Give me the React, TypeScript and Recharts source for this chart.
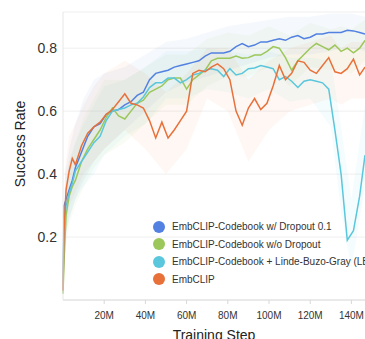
import { ComposedChart, Line, Area, XAxis, YAxis, CartesianGrid } from 'recharts'

// training step in millions
const STEPS = [0, 0.5, 1.5, 3, 4.5, 6, 9, 12, 15, 18, 21, 24, 27, 30, 33, 36, 39, 42, 45, 48, 51, 54, 57, 60, 63, 66, 69, 72, 75, 78, 81, 84, 87, 90, 93, 96, 99, 102, 105, 108, 111, 114, 117, 120, 123, 126, 129, 132, 135, 138, 141, 144, 146.6]

const DROPOUT = [0.03, 0.3, 0.32, 0.35, 0.38, 0.42, 0.47, 0.52, 0.55, 0.56, 0.59, 0.6, 0.605, 0.62, 0.63, 0.65, 0.66, 0.7, 0.72, 0.725, 0.73, 0.74, 0.745, 0.75, 0.755, 0.76, 0.775, 0.785, 0.785, 0.785, 0.79, 0.805, 0.815, 0.805, 0.81, 0.82, 0.82, 0.825, 0.83, 0.825, 0.835, 0.84, 0.83, 0.835, 0.845, 0.845, 0.85, 0.85, 0.85, 0.857, 0.855, 0.85, 0.845]
const NO_DROPOUT = [0.02, 0.12, 0.27, 0.33, 0.36, 0.38, 0.44, 0.48, 0.51, 0.54, 0.58, 0.61, 0.585, 0.575, 0.6, 0.625, 0.635, 0.66, 0.67, 0.68, 0.7, 0.705, 0.705, 0.67, 0.7, 0.715, 0.73, 0.76, 0.768, 0.768, 0.768, 0.775, 0.768, 0.77, 0.778, 0.778, 0.79, 0.805, 0.8, 0.77, 0.73, 0.76, 0.78, 0.8, 0.815, 0.805, 0.795, 0.81, 0.79, 0.8, 0.785, 0.8, 0.825]
const LBG = [0.03, 0.25, 0.3, 0.34, 0.37, 0.41, 0.44, 0.47, 0.5, 0.52, 0.57, 0.6, 0.605, 0.61, 0.62, 0.625, 0.645, 0.675, 0.69, 0.69, 0.705, 0.705, 0.69, 0.7, 0.715, 0.72, 0.73, 0.735, 0.73, 0.71, 0.735, 0.715, 0.72, 0.735, 0.737, 0.745, 0.74, 0.735, 0.7, 0.71, 0.695, 0.675, 0.695, 0.7, 0.695, 0.69, 0.67, 0.54, 0.4, 0.19, 0.22, 0.33, 0.46]
const EMBCLIP = [0.03, 0.22, 0.35, 0.41, 0.45, 0.43, 0.49, 0.53, 0.55, 0.565, 0.59, 0.605, 0.63, 0.655, 0.625, 0.62, 0.61, 0.57, 0.515, 0.565, 0.515, 0.54, 0.57, 0.6, 0.72, 0.73, 0.725, 0.74, 0.75, 0.735, 0.7, 0.6, 0.555, 0.61, 0.64, 0.605, 0.625, 0.68, 0.745, 0.7, 0.72, 0.76, 0.755, 0.73, 0.72, 0.745, 0.77, 0.725, 0.72, 0.735, 0.765, 0.715, 0.74]

// spread of the raw (unsmoothed) runs
const BAND_STEPS = [0, 1, 3, 6, 10, 15, 20, 30, 40, 50, 60, 70, 80, 90, 100, 110, 120, 130, 135, 140, 146.6]
const DROPOUT_LO = [0.02, 0.2, 0.26, 0.32, 0.38, 0.44, 0.48, 0.54, 0.6, 0.66, 0.69, 0.71, 0.73, 0.75, 0.77, 0.78, 0.78, 0.79, 0.8, 0.8, 0.79]
const DROPOUT_HI = [0.1, 0.4, 0.48, 0.56, 0.64, 0.7, 0.72, 0.74, 0.78, 0.82, 0.83, 0.85, 0.87, 0.88, 0.89, 0.9, 0.9, 0.91, 0.91, 0.91, 0.9]
const NO_DROPOUT_LO = [0.02, 0.15, 0.24, 0.3, 0.36, 0.42, 0.46, 0.5, 0.56, 0.62, 0.62, 0.68, 0.71, 0.71, 0.74, 0.68, 0.74, 0.73, 0.73, 0.72, 0.76]
const NO_DROPOUT_HI = [0.08, 0.35, 0.44, 0.5, 0.58, 0.64, 0.7, 0.7, 0.74, 0.78, 0.78, 0.83, 0.85, 0.84, 0.87, 0.84, 0.88, 0.86, 0.87, 0.86, 0.89]
const LBG_LO = [0.02, 0.18, 0.26, 0.32, 0.36, 0.4, 0.46, 0.52, 0.56, 0.64, 0.64, 0.67, 0.66, 0.64, 0.67, 0.63, 0.64, 0.55, 0.28, 0.1, 0.36]
const LBG_HI = [0.08, 0.36, 0.44, 0.5, 0.56, 0.62, 0.68, 0.7, 0.74, 0.79, 0.79, 0.8, 0.79, 0.78, 0.79, 0.77, 0.77, 0.76, 0.55, 0.32, 0.62]
const EMBCLIP_LO = [0.02, 0.2, 0.3, 0.34, 0.4, 0.44, 0.48, 0.54, 0.48, 0.4, 0.48, 0.64, 0.6, 0.44, 0.54, 0.6, 0.62, 0.64, 0.62, 0.64, 0.64]
const EMBCLIP_HI = [0.08, 0.42, 0.52, 0.56, 0.62, 0.68, 0.72, 0.76, 0.72, 0.66, 0.72, 0.8, 0.8, 0.7, 0.76, 0.8, 0.82, 0.84, 0.8, 0.82, 0.82]

const X_TICKS = [20, 40, 60, 80, 100, 120, 140]
const Y_TICKS = [0.2, 0.4, 0.6, 0.8]

const FONT = '"Liberation Sans", Arial, sans-serif'

const series = [
  { key: 'dropout', name: 'EmbCLIP-Codebook w/ Dropout 0.1', color: '#5281e2', values: DROPOUT, lo: DROPOUT_LO, hi: DROPOUT_HI },
  { key: 'noDropout', name: 'EmbCLIP-Codebook w/o Dropout', color: '#9cc75a', values: NO_DROPOUT, lo: NO_DROPOUT_LO, hi: NO_DROPOUT_HI },
  { key: 'lbg', name: 'EmbCLIP-Codebook + Linde-Buzo-Gray (LBG)', color: '#5bc7dc', values: LBG, lo: LBG_LO, hi: LBG_HI },
  { key: 'embclip', name: 'EmbCLIP', color: '#e8713a', values: EMBCLIP, lo: EMBCLIP_LO, hi: EMBCLIP_HI },
]

const data = STEPS.map((step, i) => {
  const row: any = { step }
  series.forEach(s => { row[s.key] = s.values[i] })
  return row
})

const bandData = (lo: number[], hi: number[]) =>
  BAND_STEPS.map((step, i) => ({ step, range: [lo[i], hi[i]] }))

export default function App() {
  return (
    <div style={{ position: 'absolute', left: 0, top: 0, width: 365, height: 339, overflow: 'hidden', fontFamily: FONT, background: '#fff' }}>
      <ComposedChart width={365} height={339} data={data} margin={{ top: 12, right: 0, bottom: 0, left: 0 }}>
        <CartesianGrid vertical={false} stroke="#efefef" />
        <XAxis
          dataKey="step"
          type="number"
          domain={[0, 146.6]}
          ticks={X_TICKS}
          tickFormatter={(v: number) => `${v}M`}
          height={39}
          tick={{ fontSize: 10, fill: '#333', fontFamily: FONT }}
          tickSize={4}
          tickMargin={8}
          tickLine={{ stroke: '#d8d8d8' }}
          axisLine={{ stroke: '#dcdcdc' }}
          label={{ value: 'Training Step', position: 'insideBottom', offset: -1, fontSize: 14, fill: '#222', fontFamily: FONT }}
        />
        <YAxis
          type="number"
          domain={[0, 0.915]}
          ticks={Y_TICKS}
          width={63}
          tickLine={false}
          tickSize={0}
          tickMargin={6}
          tick={{ fontSize: 14, fill: '#333', fontFamily: FONT }}
          axisLine={{ stroke: '#e6e6e6' }}
          allowDataOverflow
          label={{ value: 'Success Rate', angle: -90, position: 'insideLeft', offset: 20, dy: -12, fontSize: 14, fill: '#222', fontFamily: FONT, style: { textAnchor: 'middle' } }}
        />
        {series.map(s => (
          <Area
            key={s.key + '-band'}
            data={bandData(s.lo, s.hi)}
            dataKey="range"
            type="linear"
            stroke="none"
            fill={s.color}
            fillOpacity={0.06}
            isAnimationActive={false}
            activeDot={false}
          />
        ))}
        {series.map(s => (
          <Line
            key={s.key}
            dataKey={s.key}
            type="linear"
            stroke={s.color}
            strokeWidth={1.5}
            dot={false}
            activeDot={false}
            isAnimationActive={false}
          />
        ))}
      </ComposedChart>
      <div style={{ position: 'absolute', left: 153, top: 218, whiteSpace: 'nowrap' }}>
        {series.map(s => (
          <div key={s.key} style={{ display: 'flex', alignItems: 'center', height: 17.5 }}>
            <span style={{ width: 12, height: 12, borderRadius: 6, background: s.color, marginRight: 7, flex: 'none' }} />
            <span style={{ fontSize: 10, color: '#333' }}>{s.name}</span>
          </div>
        ))}
      </div>
    </div>
  )
}
